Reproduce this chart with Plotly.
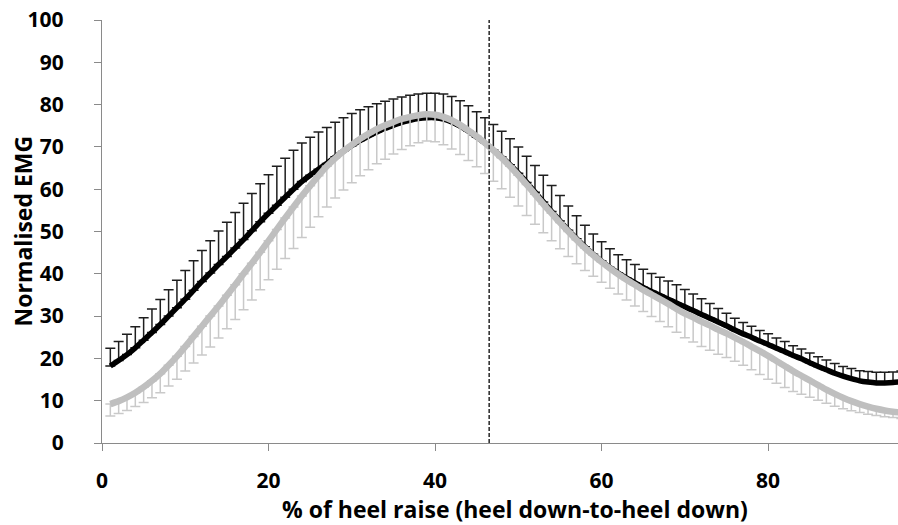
import plotly.graph_objects as go

# Percent of the heel-raise cycle (heel down-to-heel down)
pct_cycle = list(range(1, 97))

# Condition A (black): mean normalised EMG and its SD (drawn upward)
black_mean = [18.2, 19.5, 20.9, 22.5, 24.3, 26.1, 28.0, 30.0, 32.0, 34.0,
              36.1, 38.2, 40.2, 42.2, 44.1, 46.1, 48.1, 50.2, 52.3, 54.3,
              56.2, 58.1, 60.0, 61.8, 63.3, 64.7, 66.1, 67.6, 69.0, 70.3,
              71.5, 72.5, 73.5, 74.4, 75.1, 75.8, 76.3, 76.7, 76.9, 76.9,
              76.6, 75.9, 74.9, 73.7, 72.3, 70.9, 69.3, 67.6, 65.8, 63.8,
              61.6, 59.3, 57.0, 54.7, 52.5, 50.3, 48.3, 46.4, 44.6, 43.0,
              41.5, 40.2, 39.0, 37.9, 36.8, 35.8, 34.9, 34.0, 33.1, 32.2,
              31.3, 30.4, 29.5, 28.6, 27.7, 26.7, 25.8, 25.0, 24.1, 23.3,
              22.4, 21.6, 20.7, 19.9, 19.0, 18.1, 17.3, 16.5, 15.8, 15.2,
              14.7, 14.4, 14.2, 14.2, 14.3, 14.5]
black_sd = [4.2, 4.5, 4.8, 5.0, 5.3, 5.6, 5.9, 6.2, 6.5, 6.8,
            7.0, 7.3, 7.6, 7.9, 8.1, 8.4, 8.6, 8.8, 9.0, 9.1,
            9.2, 9.2, 9.2, 9.1, 9.0, 8.8, 8.5, 8.2, 7.9, 7.6,
            7.3, 7.0, 6.7, 6.4, 6.2, 6.0, 5.9, 5.8, 5.8, 5.8,
            5.9, 6.0, 6.0, 6.0, 6.0, 6.0, 6.0, 6.1, 6.1, 6.2,
            6.2, 6.3, 6.3, 6.2, 6.0, 5.7, 5.4, 5.1, 4.8, 4.6,
            4.4, 4.3, 4.3, 4.3, 4.3, 4.3, 4.3, 4.3, 4.3, 4.1,
            3.9, 3.7, 3.5, 3.2, 3.0, 2.8, 2.7, 2.6, 2.5, 2.5,
            2.4, 2.4, 2.3, 2.3, 2.3, 2.3, 2.3, 2.3, 2.3, 2.4,
            2.4, 2.5, 2.5, 2.5, 2.5, 2.5]

# Condition B (grey): mean normalised EMG and its SD (drawn downward)
grey_mean = [9.2, 9.9, 10.8, 11.9, 13.2, 14.7, 16.4, 18.4, 20.5, 22.8,
             25.2, 27.6, 30.0, 32.4, 34.9, 37.4, 40.0, 42.5, 45.1, 47.8,
             50.5, 53.2, 55.8, 58.4, 60.8, 63.2, 65.4, 67.3, 69.0, 70.5,
             71.9, 73.1, 74.2, 75.1, 75.9, 76.6, 77.1, 77.5, 77.7, 77.6,
             77.1, 76.3, 75.2, 73.9, 72.5, 70.9, 69.2, 67.4, 65.4, 63.3,
             61.1, 58.8, 56.5, 54.3, 52.1, 50.0, 48.0, 46.1, 44.4, 42.8,
             41.3, 39.9, 38.6, 37.4, 36.2, 35.1, 34.0, 32.9, 31.7, 30.6,
             29.7, 28.7, 27.8, 26.8, 25.9, 24.9, 23.9, 22.8, 21.7, 20.6,
             19.4, 18.2, 17.0, 15.9, 14.8, 13.7, 12.6, 11.6, 10.7, 9.9,
             9.2, 8.6, 8.1, 7.7, 7.4, 7.2]
grey_sd = [2.8, 2.9, 3.1, 3.3, 3.6, 4.0, 4.5, 4.9, 5.4, 5.8,
           6.3, 6.8, 7.3, 7.6, 7.9, 8.2, 8.5, 8.7, 8.9, 9.2,
           9.4, 9.6, 9.8, 9.8, 9.8, 9.7, 9.6, 9.4, 9.2, 9.0,
           8.7, 8.5, 8.2, 8.0, 7.6, 7.2, 6.8, 6.5, 6.3, 6.4,
           6.6, 6.8, 7.0, 7.1, 7.2, 7.2, 7.3, 7.3, 7.3, 7.3,
           7.3, 7.1, 6.8, 6.5, 6.2, 5.9, 5.6, 5.3, 5.0, 4.8,
           4.7, 4.7, 4.8, 5.0, 5.1, 5.2, 5.3, 5.4, 5.5, 5.7,
           5.8, 5.9, 5.9, 5.8, 5.7, 5.6, 5.5, 5.5, 5.5, 5.5,
           5.3, 5.1, 4.8, 4.4, 4.0, 3.6, 3.2, 2.9, 2.6, 2.3,
           2.0, 1.8, 1.6, 1.5, 1.4, 1.4]

# Event marker position (% of cycle)
event_pct = 46.5

x_ticks = [0, 20, 40, 60, 80]
y_ticks = list(range(0, 101, 10))

FONT = "Open Sans"
AXIS_GREY = "#8a8a8a"
TITLE_FONT = dict(family=FONT, size=23, weight="bold", color="#000000")

fig = go.Figure()

fig.add_trace(go.Scatter(
    x=pct_cycle, y=black_mean, mode="lines",
    line=dict(color="#000000", width=5.5, shape="spline", smoothing=0.6),
    error_y=dict(type="data", symmetric=False, array=black_sd,
                 arrayminus=[0] * len(black_sd),
                 color="#1e1e1e", thickness=1.5, width=5),
    showlegend=False,
))

fig.add_trace(go.Scatter(
    x=pct_cycle, y=grey_mean, mode="lines",
    line=dict(color="#bfbfbf", width=6.5, shape="spline", smoothing=0.6),
    error_y=dict(type="data", symmetric=False, array=[0] * len(grey_sd),
                 arrayminus=grey_sd,
                 color="#c9c9c9", thickness=1.5, width=5),
    showlegend=False,
))

fig.add_shape(type="line", xref="x", yref="y",
              x0=event_pct, x1=event_pct, y0=0, y1=100,
              line=dict(color="#333333", width=1.6, dash="4px,2px"))

# Axis titles placed as annotations around the plot area
fig.add_annotation(
    text="% of heel raise (heel down-to-heel down)",
    xref="paper", yref="paper", x=0.519, y=0,
    yshift=-66, showarrow=False, xanchor="center", yanchor="middle",
    font=TITLE_FONT,
)
fig.add_annotation(
    text="Normalised EMG",
    xref="paper", yref="paper", x=0, y=0.5,
    xshift=-80, showarrow=False, xanchor="center", yanchor="middle",
    textangle=-90, font=TITLE_FONT,
)

fig.update_layout(
    width=898, height=525,
    margin=dict(l=102, r=0, t=20, b=82),
    paper_bgcolor="white", plot_bgcolor="white",
    font=dict(family=FONT, color="#000000"),
)

fig.update_xaxes(
    range=[0, 95.6], tickvals=x_ticks,
    showgrid=False, zeroline=False,
    showline=True, linecolor=AXIS_GREY, linewidth=1.3,
    ticks="outside", ticklen=7, tickcolor=AXIS_GREY, tickwidth=1.3,
    tickfont=dict(family=FONT, size=21, weight="bold"),
    ticklabelstandoff=12,
)

fig.update_yaxes(
    range=[0, 100], tickvals=y_ticks,
    showgrid=False, zeroline=False,
    showline=True, linecolor=AXIS_GREY, linewidth=1.3,
    ticks="outside", ticklen=7, tickcolor=AXIS_GREY, tickwidth=1.3,
    tickfont=dict(family=FONT, size=21, weight="bold"),
    ticklabelstandoff=26,
)

fig.write_html("out.html")
